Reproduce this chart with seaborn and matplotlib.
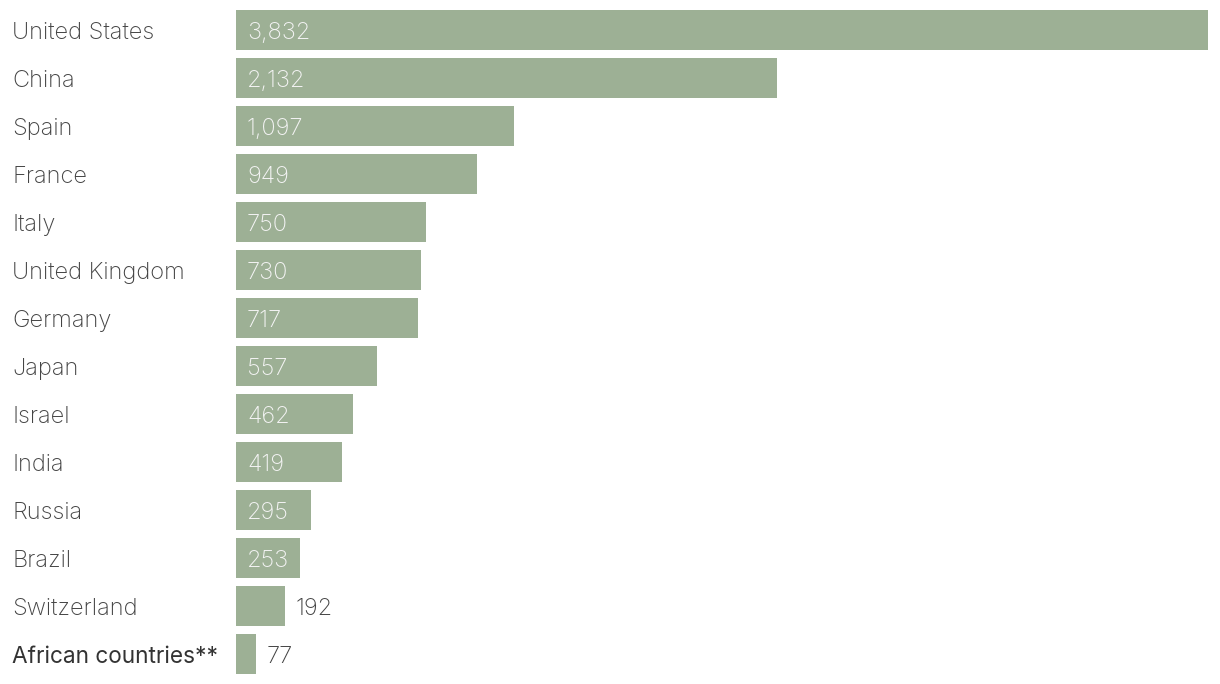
import matplotlib
matplotlib.use("Agg")
import matplotlib.pyplot as plt
import matplotlib.transforms as mtransforms
import seaborn as sns
import pandas as pd

countries = ["United States", "China", "Spain", "France", "Italy", "United Kingdom",
             "Germany", "Japan", "Israel", "India", "Russia", "Brazil", "Switzerland",
             "African countries**"]
values = [3832, 2132, 1097, 949, 750, 730, 717, 557, 462, 419, 295, 253, 192, 77]

df = pd.DataFrame({"country": countries, "value": values})

sns.set_theme(style="white")
plt.rcParams["font.family"] = ["Inter", "DejaVu Sans"]

W, H = 1220, 684
fig = plt.figure(figsize=(W / 100, H / 100), dpi=100)
ax = fig.add_axes([236 / W, 6 / H, (1208 - 236) / W, (678 - 6) / H])

bar_color = "#9db095"
sns.barplot(data=df, y="country", x="value", orient="h", color=bar_color,
            width=40 / 48, saturation=1, linewidth=0, ax=ax)
ax.set_xlim(0, max(values))
ax.set_ylim(len(values) - 0.5, -0.5)
ax.axis("off")

fs = 17
trans_label = mtransforms.blended_transform_factory(fig.transFigure, ax.transData)
offset = mtransforms.ScaledTranslation(11 / 100, 0, fig.dpi_scale_trans)
for i, (c, v) in enumerate(zip(countries, values)):
    is_africa = c.startswith("African")
    ax.text(12 / W, i, c, transform=trans_label, ha="left", va="center_baseline",
            fontsize=16.3 if is_africa else fs,
            fontweight="normal" if is_africa else "light",
            color="#333333" if is_africa else "#444444")
    txt = f"{v:,}"
    if v >= 250:
        ax.text(0, i, txt, transform=ax.transData + offset, ha="left", va="center_baseline",
                fontsize=fs, fontweight="light", color="#f4f4f4")
    else:
        ax.text(v, i, txt, transform=ax.transData + offset, ha="left", va="center_baseline",
                fontsize=fs, fontweight="light", color="#444444")

fig.savefig("out.png", dpi=100)
